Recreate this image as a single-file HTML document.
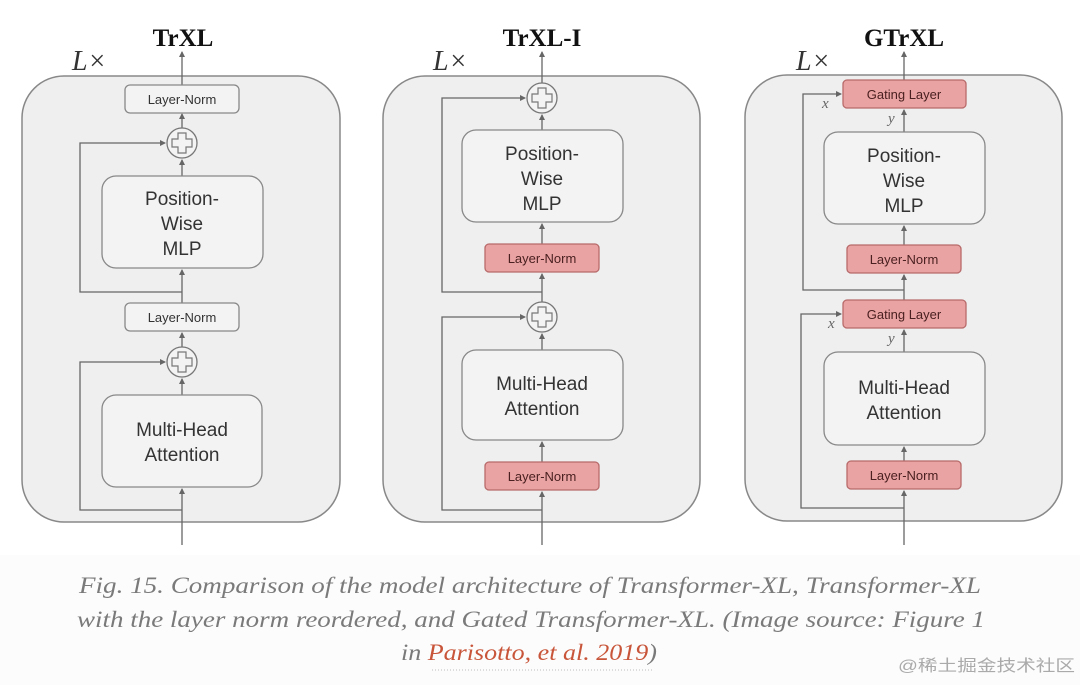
<!DOCTYPE html>
<html><head><meta charset="utf-8"><style>
html,body{margin:0;padding:0;background:#fff;}
svg{display:block}
</style></head><body>
<svg width="1080" height="685" viewBox="0 0 1080 685" xmlns="http://www.w3.org/2000/svg">
<defs>
<marker id="ah" markerWidth="6" markerHeight="6" refX="5" refY="3" orient="auto" markerUnits="userSpaceOnUse">
<path d="M0,0 L6,3 L0,6 z" fill="#666"/></marker>
</defs>
<rect x="0" y="0" width="1080" height="685" fill="#fff"/>
<rect x="0" y="555" width="1080" height="130" fill="#fcfcfc"/>
<g font-family="Liberation Sans, sans-serif" fill="#333">
<!-- Panel 1 -->
<text x="183" y="46" font-family="Liberation Serif, serif" font-weight="bold" font-size="25" text-anchor="middle" fill="#111">TrXL</text>
<text x="72" y="70" font-family="Liberation Serif, serif" font-style="italic" font-size="28" fill="#333">L×</text>
<rect x="22" y="76" width="318" height="446" rx="42" fill="#efefef" stroke="#888" stroke-width="1.5"/>
<g stroke="#666" stroke-width="1.3" fill="none">
<line x1="182" y1="545" x2="182" y2="489" marker-end="url(#ah)"/>
<polyline points="182,510 80,510 80,362 165,362" marker-end="url(#ah)"/>
<line x1="182" y1="395" x2="182" y2="379" marker-end="url(#ah)"/>
<line x1="182" y1="347" x2="182" y2="333" marker-end="url(#ah)"/>
<line x1="182" y1="303" x2="182" y2="270" marker-end="url(#ah)"/>
<polyline points="182,292 80,292 80,143 165,143" marker-end="url(#ah)"/>
<line x1="182" y1="176" x2="182" y2="160" marker-end="url(#ah)"/>
<line x1="182" y1="128" x2="182" y2="114" marker-end="url(#ah)"/>
<line x1="182" y1="86" x2="182" y2="52" marker-end="url(#ah)"/>
</g>
<rect x="102" y="395" width="160" height="92" rx="14" fill="#f3f3f3" stroke="#888" stroke-width="1.3"/>
<text x="182" y="436" font-size="19" text-anchor="middle">Multi-Head</text>
<text x="182" y="461" font-size="19" text-anchor="middle">Attention</text>
<circle cx="182" cy="362" r="15" fill="#f3f3f3" stroke="#777" stroke-width="1.3"/>
<path d="M178,352h8v6h6v8h-6v6h-8v-6h-6v-8h6z" fill="none" stroke="#777" stroke-width="1.2"/>
<rect x="125" y="303" width="114" height="28" rx="5" fill="#f3f3f3" stroke="#888" stroke-width="1.3"/>
<text x="182" y="322" font-size="13" text-anchor="middle">Layer-Norm</text>
<rect x="102" y="176" width="161" height="92" rx="14" fill="#f3f3f3" stroke="#888" stroke-width="1.3"/>
<text x="182" y="205" font-size="19" text-anchor="middle">Position-</text>
<text x="182" y="230" font-size="19" text-anchor="middle">Wise</text>
<text x="182" y="255" font-size="19" text-anchor="middle">MLP</text>
<circle cx="182" cy="143" r="15" fill="#f3f3f3" stroke="#777" stroke-width="1.3"/>
<path d="M178,133h8v6h6v8h-6v6h-8v-6h-6v-8h6z" fill="none" stroke="#777" stroke-width="1.2"/>
<rect x="125" y="85" width="114" height="28" rx="5" fill="#f3f3f3" stroke="#888" stroke-width="1.3"/>
<text x="182" y="104" font-size="13" text-anchor="middle">Layer-Norm</text>

<!-- Panel 2 -->
<text x="542" y="46" font-family="Liberation Serif, serif" font-weight="bold" font-size="25" text-anchor="middle" fill="#111">TrXL-I</text>
<text x="433" y="70" font-family="Liberation Serif, serif" font-style="italic" font-size="28" fill="#333">L×</text>
<rect x="383" y="76" width="317" height="446" rx="42" fill="#efefef" stroke="#888" stroke-width="1.5"/>
<g stroke="#666" stroke-width="1.3" fill="none">
<line x1="542" y1="545" x2="542" y2="492" marker-end="url(#ah)"/>
<polyline points="542,510 442,510 442,317 525,317" marker-end="url(#ah)"/>
<line x1="542" y1="462" x2="542" y2="442" marker-end="url(#ah)"/>
<line x1="542" y1="350" x2="542" y2="334" marker-end="url(#ah)"/>
<line x1="542" y1="302" x2="542" y2="274" marker-end="url(#ah)"/>
<polyline points="542,292 442,292 442,98 525,98" marker-end="url(#ah)"/>
<line x1="542" y1="244" x2="542" y2="224" marker-end="url(#ah)"/>
<line x1="542" y1="130" x2="542" y2="115" marker-end="url(#ah)"/>
<line x1="542" y1="83" x2="542" y2="52" marker-end="url(#ah)"/>
</g>
<rect x="485" y="462" width="114" height="28" rx="4" fill="#eaa3a3" stroke="#b86a6a" stroke-width="1.3"/>
<text x="542" y="481" font-size="13" text-anchor="middle" fill="#4a2020">Layer-Norm</text>
<rect x="462" y="350" width="161" height="90" rx="14" fill="#f3f3f3" stroke="#888" stroke-width="1.3"/>
<text x="542" y="390" font-size="19" text-anchor="middle">Multi-Head</text>
<text x="542" y="415" font-size="19" text-anchor="middle">Attention</text>
<circle cx="542" cy="317" r="15" fill="#f3f3f3" stroke="#777" stroke-width="1.3"/>
<path d="M538,307h8v6h6v8h-6v6h-8v-6h-6v-8h6z" fill="none" stroke="#777" stroke-width="1.2"/>
<rect x="485" y="244" width="114" height="28" rx="4" fill="#eaa3a3" stroke="#b86a6a" stroke-width="1.3"/>
<text x="542" y="263" font-size="13" text-anchor="middle" fill="#4a2020">Layer-Norm</text>
<rect x="462" y="130" width="161" height="92" rx="14" fill="#f3f3f3" stroke="#888" stroke-width="1.3"/>
<text x="542" y="160" font-size="19" text-anchor="middle">Position-</text>
<text x="542" y="185" font-size="19" text-anchor="middle">Wise</text>
<text x="542" y="210" font-size="19" text-anchor="middle">MLP</text>
<circle cx="542" cy="98" r="15" fill="#f3f3f3" stroke="#777" stroke-width="1.3"/>
<path d="M538,88h8v6h6v8h-6v6h-8v-6h-6v-8h6z" fill="none" stroke="#777" stroke-width="1.2"/>

<!-- Panel 3 -->
<text x="904" y="46" font-family="Liberation Serif, serif" font-weight="bold" font-size="25" text-anchor="middle" fill="#111">GTrXL</text>
<text x="796" y="70" font-family="Liberation Serif, serif" font-style="italic" font-size="28" fill="#333">L×</text>
<rect x="745" y="75" width="317" height="446" rx="42" fill="#efefef" stroke="#888" stroke-width="1.5"/>
<g stroke="#666" stroke-width="1.3" fill="none">
<line x1="904" y1="545" x2="904" y2="491" marker-end="url(#ah)"/>
<polyline points="904,508 801,508 801,314 841,314" marker-end="url(#ah)"/>
<line x1="904" y1="461" x2="904" y2="447" marker-end="url(#ah)"/>
<line x1="904" y1="352" x2="904" y2="330" marker-end="url(#ah)"/>
<line x1="904" y1="300" x2="904" y2="275" marker-end="url(#ah)"/>
<polyline points="904,290 803,290 803,94 841,94" marker-end="url(#ah)"/>
<line x1="904" y1="245" x2="904" y2="226" marker-end="url(#ah)"/>
<line x1="904" y1="132" x2="904" y2="110" marker-end="url(#ah)"/>
<line x1="904" y1="80" x2="904" y2="52" marker-end="url(#ah)"/>
</g>
<rect x="847" y="461" width="114" height="28" rx="4" fill="#eaa3a3" stroke="#b86a6a" stroke-width="1.3"/>
<text x="904" y="480" font-size="13" text-anchor="middle" fill="#4a2020">Layer-Norm</text>
<rect x="824" y="352" width="161" height="93" rx="14" fill="#f3f3f3" stroke="#888" stroke-width="1.3"/>
<text x="904" y="394" font-size="19" text-anchor="middle">Multi-Head</text>
<text x="904" y="419" font-size="19" text-anchor="middle">Attention</text>
<rect x="843" y="300" width="123" height="28" rx="4" fill="#eaa3a3" stroke="#b86a6a" stroke-width="1.3"/>
<text x="904" y="319" font-size="13" text-anchor="middle" fill="#4a2020">Gating Layer</text>
<text x="828" y="328" font-family="Liberation Serif, serif" font-style="italic" font-size="15" fill="#666">x</text>
<text x="888" y="343" font-family="Liberation Serif, serif" font-style="italic" font-size="15" fill="#666">y</text>
<rect x="847" y="245" width="114" height="28" rx="4" fill="#eaa3a3" stroke="#b86a6a" stroke-width="1.3"/>
<text x="904" y="264" font-size="13" text-anchor="middle" fill="#4a2020">Layer-Norm</text>
<rect x="824" y="132" width="161" height="92" rx="14" fill="#f3f3f3" stroke="#888" stroke-width="1.3"/>
<text x="904" y="162" font-size="19" text-anchor="middle">Position-</text>
<text x="904" y="187" font-size="19" text-anchor="middle">Wise</text>
<text x="904" y="212" font-size="19" text-anchor="middle">MLP</text>
<rect x="843" y="80" width="123" height="28" rx="4" fill="#eaa3a3" stroke="#b86a6a" stroke-width="1.3"/>
<text x="904" y="99" font-size="13" text-anchor="middle" fill="#4a2020">Gating Layer</text>
<text x="822" y="108" font-family="Liberation Serif, serif" font-style="italic" font-size="15" fill="#666">x</text>
<text x="888" y="123" font-family="Liberation Serif, serif" font-style="italic" font-size="15" fill="#666">y</text>
</g>
<!-- Caption -->
<g font-family="Liberation Serif, serif" font-style="italic" font-size="23" fill="#7a7a7a">
<text x="79" y="593" textLength="902" lengthAdjust="spacingAndGlyphs">Fig. 15. Comparison of the model architecture of Transformer-XL, Transformer-XL</text>
<text x="77" y="627" textLength="908" lengthAdjust="spacingAndGlyphs">with the layer norm reordered, and Gated Transformer-XL. (Image source: Figure 1</text>
<text x="401" y="660" textLength="256" lengthAdjust="spacingAndGlyphs">in <tspan fill="#c8553a">Parisotto, et al. 2019</tspan>)</text>
</g>
<line x1="432" y1="670" x2="652" y2="670" stroke="#bbb" stroke-width="1" stroke-dasharray="1,2"/>
<text x="898" y="671" textLength="177" lengthAdjust="spacingAndGlyphs" font-family="Liberation Sans, 'Noto Sans CJK SC', sans-serif" font-size="16" fill="#aaa">@稀土掘金技术社区</text>
</svg>
</body></html>
